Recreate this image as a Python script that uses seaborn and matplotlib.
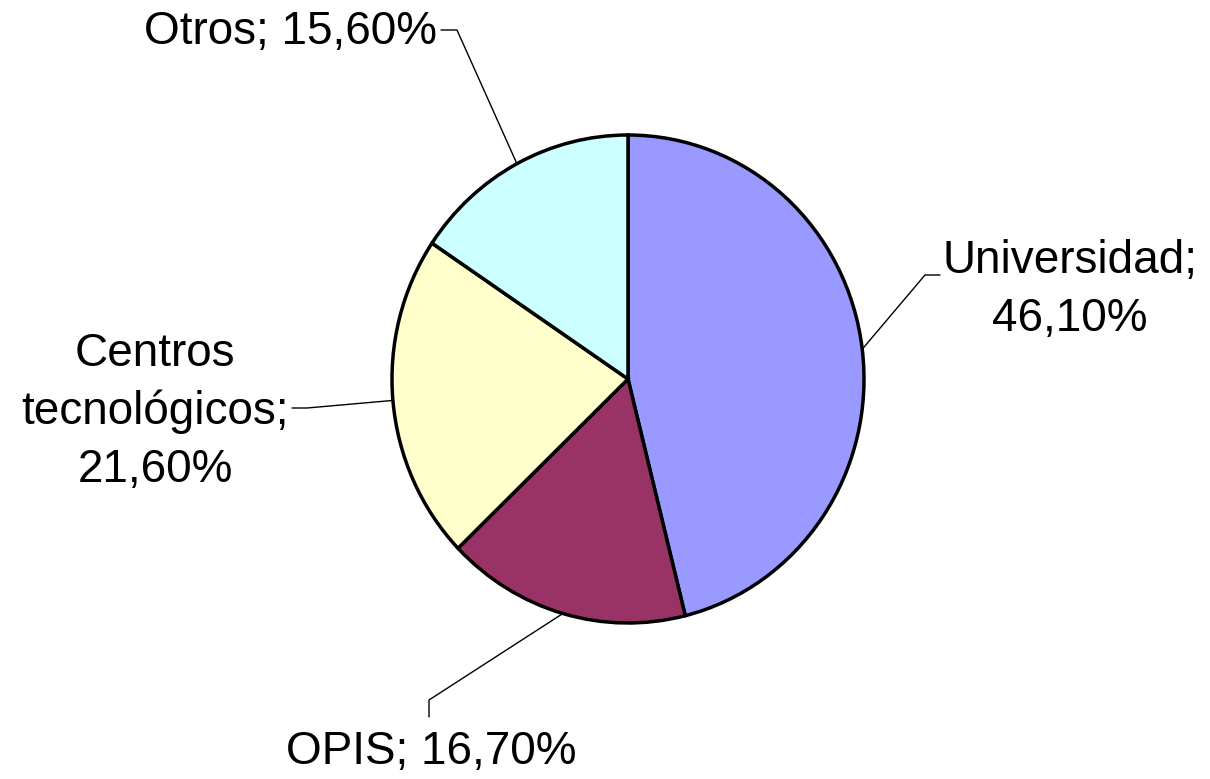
import numpy as np
import matplotlib
matplotlib.use("Agg")
import matplotlib.pyplot as plt
import seaborn as sns

categories = ["Universidad", "OPIS", "Centros\ntecnológicos", "Otros"]
values = [46.10, 16.70, 21.60, 15.60]
colors = ["#9999FF", "#993366", "#FFFFCC", "#CCFFFF"]
value_labels = ["46,10%", "16,70%", "21,60%", "15,60%"]

sns.set_theme(style="white")
plt.rcParams['font.family'] = ['Liberation Sans', 'DejaVu Sans']

W, H = 1210, 779
K = 244 / 236  # vertical stretch of the pie in the reference
fig = plt.figure(figsize=(W / 100, H / 100), dpi=100)
ax = fig.add_axes([0, 0, 1, 1])


def py(y_px):
    """pixel row (from top) -> data y"""
    return (H - y_px) / K


cx, cy, R = 628, py(379), 236
wedges, _ = ax.pie(values, colors=colors, startangle=90, counterclock=False,
                   center=(cx, cy), radius=R, frame=True,
                   wedgeprops=dict(edgecolor="black", linewidth=2.5))
ax.set_aspect("auto")
ax.set_xlim(0, W)
ax.set_ylim(0, H / K)
ax.set_axis_off()

layout = {
    "Universidad": dict(txt=(1070, 290), ha="center", start=(940, 275), knee=(925, 275), sep="\n"),
    "OPIS": dict(txt=(431, 752), ha="center", start=(429, 717), knee=(429, 700), sep=" "),
    "Centros\ntecnológicos": dict(txt=(155, 412), ha="center", start=(292, 408), knee=(307, 408), sep="\n"),
    "Otros": dict(txt=(437, 32), ha="right", start=(441, 30), knee=(457, 30), sep=" "),
}

for w, cat, vl in zip(wedges, categories, value_labels):
    L = layout[cat]
    mid = np.deg2rad((w.theta1 + w.theta2) / 2)
    ex, ey = cx + R * np.cos(mid), cy + R * np.sin(mid)
    sx, sy = L["start"]
    kx, ky = L["knee"]
    ax.plot([sx, kx, ex], [py(sy), py(ky), ey], color="black", lw=1.0, zorder=0)
    ax.text(L["txt"][0], py(L["txt"][1]), f"{cat};{L['sep']}{vl}", ha=L["ha"], va="center",
            fontsize=33, linespacing=1.4, color="black")

fig.savefig("out.png", dpi=100)
